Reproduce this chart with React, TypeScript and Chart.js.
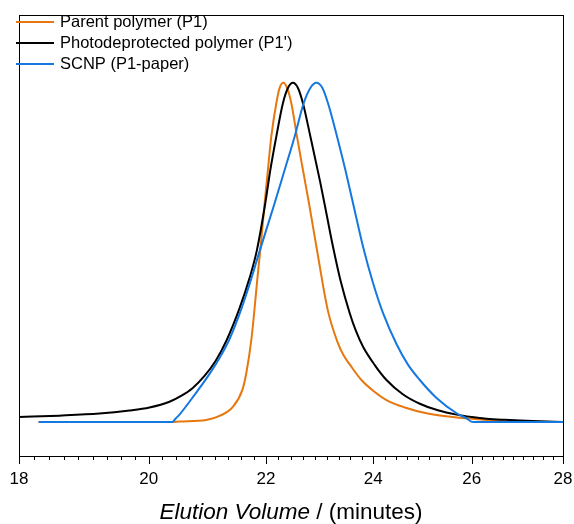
import React, { useEffect, useRef } from 'react';
import { Chart, registerables } from 'chart.js';

Chart.register(...registerables);

// ---- Data ----
const seriesLabels = ['Parent polymer (P1)', "Photodeprotected polymer (P1')", 'SCNP (P1-paper)'];
const seriesColors = ['#E6780F', '#000000', '#1478E0'];

const p1X = [18.289, 20.373, 20.506, 20.956, 21.184, 21.415, 21.579, 21.649, 21.738, 21.855, 21.897, 21.974, 22.033, 22.094, 22.184, 22.244, 22.311, 22.378, 22.456, 22.559, 22.669, 22.780, 22.929, 23.135, 23.324, 23.432, 23.547, 23.772, 24.011, 24.260, 24.624, 25.062, 25.459, 25.890, 26.315, 26.818, 28.0];
const p1Y = [0, 0, 0.0015, 0.006, 0.018, 0.045, 0.094, 0.144, 0.242, 0.439, 0.507, 0.645, 0.743, 0.842, 0.940, 0.985, 1.0, 0.985, 0.940, 0.842, 0.743, 0.645, 0.507, 0.327, 0.232, 0.196, 0.170, 0.124, 0.091, 0.065, 0.043, 0.026, 0.017, 0.011, 0.006, 0.0015, 0];

const p1pX = [18.0, 18.6, 19.215, 19.689, 20.012, 20.340, 20.540, 20.724, 20.927, 21.116, 21.300, 21.532, 21.708, 21.837, 21.986, 22.076, 22.184, 22.303, 22.394, 22.486, 22.577, 22.669, 22.806, 22.988, 23.110, 23.229, 23.375, 23.547, 23.662, 23.803, 24.030, 24.260, 24.584, 24.926, 25.293, 25.681, 26.003, 26.315, 26.710, 27.038, 27.481, 28.0];
const p1pY = [0.015, 0.019, 0.025, 0.034, 0.043, 0.060, 0.078, 0.100, 0.136, 0.180, 0.239, 0.336, 0.425, 0.507, 0.645, 0.743, 0.842, 0.940, 0.985, 1.0, 0.985, 0.940, 0.842, 0.708, 0.611, 0.517, 0.415, 0.321, 0.270, 0.222, 0.168, 0.124, 0.082, 0.054, 0.035, 0.022, 0.015, 0.010, 0.0065, 0.0044, 0.0024, 0];

const scnpX = [18.289, 20.385, 20.440, 20.506, 20.758, 21.013, 21.184, 21.357, 21.561, 21.708, 21.885, 22.153, 22.334, 22.517, 22.682, 22.806, 22.918, 23.030, 23.135, 23.305, 23.464, 23.610, 23.803, 23.991, 24.193, 24.458, 24.684, 24.926, 25.267, 25.681, 25.876, 26.030, 28.0];
const scnpY = [0, 0, 0.010, 0.022, 0.080, 0.142, 0.189, 0.245, 0.333, 0.407, 0.504, 0.645, 0.743, 0.842, 0.940, 0.985, 1.0, 0.985, 0.940, 0.842, 0.743, 0.645, 0.517, 0.413, 0.321, 0.230, 0.170, 0.124, 0.071, 0.026, 0.012, 0, 0];

const xMajorTicks = [18, 20, 22, 24, 26, 28];
const minorPerInterval = 8;
const xTitleItalic = 'Elution Volume';
const xTitleRest = ' / (minutes)';

const FONT = '"Liberation Sans", Arial, sans-serif';

const toPoints = (xs: number[], ys: number[]) => xs.map((x, i) => ({ x, y: ys[i] }));

const decorPlugin = {
  id: 'decor',
  afterDraw(chart: any) {
    const { ctx, chartArea } = chart;
    const { left, right, top, bottom } = chartArea;
    const xs = chart.scales.x;
    ctx.save();
    // frame
    ctx.strokeStyle = '#000';
    ctx.lineWidth = 1;
    ctx.strokeRect(left + 0.5, top + 0.5, right - left, bottom - top);
    // ticks
    ctx.beginPath();
    for (let i = 0; i < xMajorTicks.length; i++) {
      const px = Math.round(xs.getPixelForValue(xMajorTicks[i])) + 0.5;
      ctx.moveTo(px, bottom);
      ctx.lineTo(px, bottom + 8);
      if (i < xMajorTicks.length - 1) {
        const a = xMajorTicks[i];
        const b = xMajorTicks[i + 1];
        for (let j = 1; j <= minorPerInterval; j++) {
          const v = a + ((b - a) * j) / (minorPerInterval + 1);
          const mp = Math.round(xs.getPixelForValue(v)) + 0.5;
          ctx.moveTo(mp, bottom);
          ctx.lineTo(mp, bottom + 4);
        }
      }
    }
    ctx.stroke();
    // legend
    ctx.textBaseline = 'middle';
    ctx.textAlign = 'left';
    ctx.font = `16.5px ${FONT}`;
    const legendOrder = [0, 1, 2];
    legendOrder.forEach((di, row) => {
      const ds = chart.data.datasets[di];
      const y = 22 + row * 21;
      ctx.strokeStyle = ds.borderColor;
      ctx.lineWidth = 2;
      ctx.beginPath();
      ctx.moveTo(16, y);
      ctx.lineTo(54, y);
      ctx.stroke();
      ctx.fillStyle = '#000';
      ctx.fillText(ds.label, 60, y + 0.5);
    });
    // axis title
    ctx.textBaseline = 'alphabetic';
    ctx.font = `italic 22.5px ${FONT}`;
    const w1 = ctx.measureText(xTitleItalic).width;
    ctx.font = `22.5px ${FONT}`;
    const w2 = ctx.measureText(xTitleRest).width;
    const cx = (left + right) / 2;
    const sx = cx - (w1 + w2) / 2;
    ctx.fillStyle = '#000';
    ctx.font = `italic 22.5px ${FONT}`;
    ctx.fillText(xTitleItalic, sx, 519);
    ctx.font = `22.5px ${FONT}`;
    ctx.fillText(xTitleRest, sx + w1, 519);
    ctx.restore();
  },
};

export default function App() {
  const ref = useRef<HTMLCanvasElement | null>(null);
  useEffect(() => {
    document.body.style.margin = '0';
    const canvas = ref.current;
    if (!canvas) return;
    const makeDs = (i: number, xs: number[], ys: number[], order: number) => ({
      label: seriesLabels[i],
      data: toPoints(xs, ys),
      borderColor: seriesColors[i],
      backgroundColor: seriesColors[i],
      borderWidth: 2,
      pointRadius: 0,
      fill: false,
      cubicInterpolationMode: 'monotone' as const,
      order,
    });
    const chart = new Chart(canvas, {
      type: 'line',
      data: {
        datasets: [
          makeDs(0, p1X, p1Y, 2),
          makeDs(1, p1pX, p1pY, 1),
          makeDs(2, scnpX, scnpY, 0),
        ],
      },
      options: {
        animation: false,
        responsive: false,
        devicePixelRatio: 1,
        layout: { padding: { left: 19, right: 11, top: 15, bottom: 0 } },
        plugins: { legend: { display: false }, tooltip: { enabled: false } },
        scales: {
          x: {
            type: 'logarithmic',
            min: 18,
            max: 28,
            afterBuildTicks: (scale: any) => {
              scale.ticks = xMajorTicks.map((v) => ({ value: v }));
            },
            afterFit: (scale: any) => {
              scale.height = 68;
              scale.paddingLeft = 0;
              scale.paddingRight = 0;
            },
            grid: { display: false, drawTicks: true, tickLength: 8 },
            border: { display: false },
            ticks: {
              autoSkip: false,
              maxRotation: 0,
              padding: 5,
              color: '#000',
              font: { family: FONT, size: 17 },
              callback: (v: any) => String(v),
            },
          },
          y: {
            type: 'linear',
            display: false,
            min: -0.1,
            max: 1.2,
          },
        },
      },
      plugins: [decorPlugin],
    });
    return () => chart.destroy();
  }, []);
  return (
    <div style={{ width: 574, height: 524 }}>
      <canvas ref={ref} width={574} height={524} style={{ display: 'block' }} />
    </div>
  );
}
